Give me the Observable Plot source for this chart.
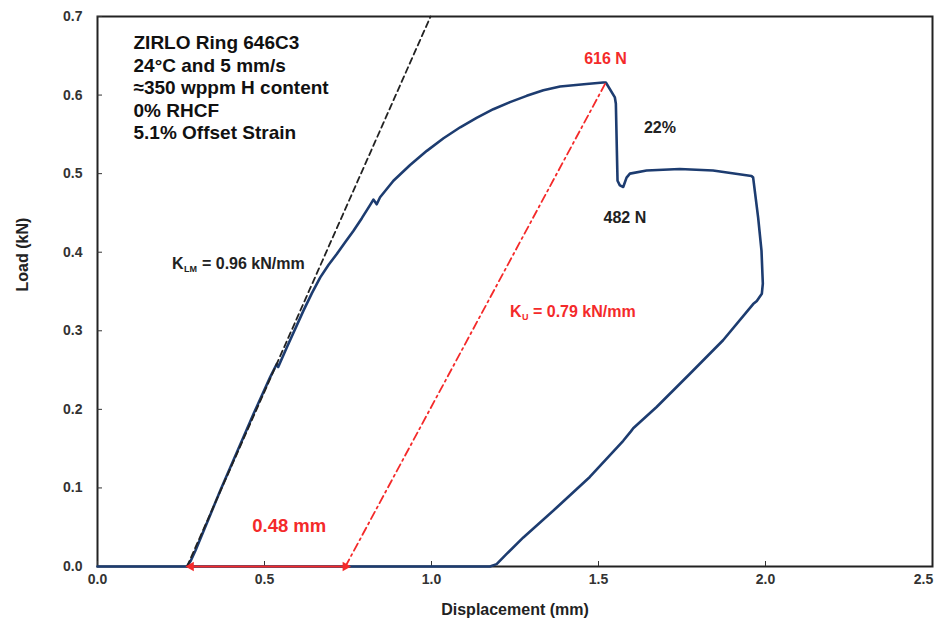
<!DOCTYPE html>
<html><head><meta charset="utf-8">
<script src="https://cdn.jsdelivr.net/npm/d3@7"></script>
<script src="https://cdn.jsdelivr.net/npm/@observablehq/plot@0.6"></script>
<style>
body{margin:0;background:#fff;}
svg{font-family:"Liberation Sans",Arial,sans-serif;}
svg text{font-weight:bold;}
</style>
</head><body><div id="chart"></div>
<script>
// Load–displacement curve (mm, kN)
const displacement = [0, 0.268, 0.28, 0.293, 0.33, 0.368, 0.418, 0.467, 0.517, 0.537, 0.541, 0.567, 0.617, 0.642, 0.667, 0.692, 0.717, 0.742, 0.766, 0.791, 0.816, 0.826, 0.836, 0.846, 0.886, 0.936, 0.986, 1.036, 1.086, 1.135, 1.185, 1.235, 1.285, 1.335, 1.385, 1.464, 1.514, 1.522, 1.549, 1.552, 1.555, 1.557, 1.564, 1.574, 1.584, 1.594, 1.644, 1.743, 1.843, 1.958, 1.963, 1.978, 1.988, 1.992, 1.989, 1.974, 1.963, 1.873, 1.773, 1.674, 1.604, 1.597, 1.574, 1.474, 1.375, 1.275, 1.225, 1.195, 1.175, 0];
const load = [0, 0, 0.008, 0.020, 0.058, 0.097, 0.146, 0.194, 0.241, 0.258, 0.254, 0.279, 0.326, 0.348, 0.368, 0.384, 0.398, 0.413, 0.427, 0.443, 0.460, 0.467, 0.461, 0.470, 0.491, 0.511, 0.529, 0.545, 0.559, 0.571, 0.582, 0.591, 0.599, 0.606, 0.611, 0.614, 0.616, 0.616, 0.597, 0.589, 0.529, 0.491, 0.485, 0.483, 0.495, 0.500, 0.504, 0.506, 0.504, 0.497, 0.495, 0.444, 0.402, 0.360, 0.347, 0.338, 0.334, 0.288, 0.245, 0.203, 0.176, 0.172, 0.160, 0.114, 0.075, 0.037, 0.016, 0.003, 0, 0];

const xTicks = [0, 0.5, 1.0, 1.5, 2.0];
const xLastTick = [2.5];
const yTicks = [0, 0.1, 0.2, 0.3, 0.4, 0.5, 0.6, 0.7];
const infoLines = ["ZIRLO Ring 646C3", "24°C and 5 mm/s", "≈350 wppm H content", "0% RHCF", "5.1% Offset Strain"];

const kLM = 0.96;          // kN/mm loading stiffness
const kU = 0.79;           // kN/mm unloading stiffness
const loadStart = 0.268;   // mm, onset of loading
const peakDisp = 1.522;    // mm
const peakLoad = 0.616;    // kN
const xTitle = "Displacement (mm)";
const yTitle = "Load (kN)";

const curve = displacement.map((d, i) => ({x: d, y: load[i]}));
const yMax = 0.7;
const loadingLine = [{x: loadStart, y: 0}, {x: loadStart + yMax / kLM, y: yMax}];
const unloadFoot = peakDisp - peakLoad / kU;
const unloadingLine = [{x: unloadFoot, y: 0}, {x: peakDisp, y: peakLoad}];
const arrowStart = loadStart + 0.012;

const red = "#f42a2a";
const navy = "#1d3c70";
const ink = "#222";

const chart = Plot.plot({
  width: 934, height: 631,
  marginLeft: 97, marginRight: 2, marginTop: 16, marginBottom: 65,
  x: {domain: [0, 2.5]},
  y: {domain: [0, 0.7]},
  style: {fontFamily: '"Liberation Sans", Arial, sans-serif', fontSize: "14px", color: "#333"},
  marks: [
    Plot.frame({stroke: ink, strokeWidth: 2}),
    Plot.axisX(xTicks, {tickSize: -5, tickPadding: 13, tickFormat: d3.format(".1f"), label: null, fontSize: 14, stroke: "#333"}),
    Plot.axisX(xLastTick, {tickSize: 0, tickPadding: 8, tickFormat: d3.format(".1f"), label: null, fontSize: 14, dx: -9}),
    Plot.axisY(yTicks, {tickSize: -5, tickPadding: 20, tickFormat: d3.format(".1f"), label: null, fontSize: 14, stroke: "#333"}),
    Plot.line(curve, {x: "x", y: "y", stroke: navy, strokeWidth: 2.6, strokeLinejoin: "round"}),
    Plot.line(loadingLine, {x: "x", y: "y", stroke: ink, strokeWidth: 1.8, strokeDasharray: "6,4"}),
    Plot.line(unloadingLine, {x: "x", y: "y", stroke: red, strokeWidth: 1.8, strokeDasharray: "8,4,2,4"}),
    Plot.link([{x1: arrowStart, x2: unloadFoot}], {x1: "x1", x2: "x2", y1: () => 0, y2: () => 0, stroke: red, strokeWidth: 2.2}),
    Plot.dot([arrowStart], {x: d => d, y: () => 0, symbol: "triangle", r: 3.6, rotate: -90, fill: red, stroke: null}),
    Plot.dot([unloadFoot], {x: d => d, y: () => 0, symbol: "triangle", r: 3.6, rotate: 90, fill: red, stroke: null}),
    Plot.text([infoLines.join("\n")], {text: d => d, frameAnchor: "top-left", dx: 36, dy: 17, lineAnchor: "top", lineHeight: 1.18, fontSize: 19, textAnchor: "start", fill: "#111"}),
    Plot.text(["616 N"], {text: d => d, x: () => 1.521, y: () => 0.646, fontSize: 16, fill: red}),
    Plot.text(["22%"], {text: d => d, x: () => 1.684, y: () => 0.558, fontSize: 16, fill: ink}),
    Plot.text(["482 N"], {text: d => d, x: () => 1.579, y: () => 0.444, fontSize: 16, fill: ink}),
    Plot.text(["0.48 mm"], {text: d => d, x: () => 0.574, y: () => 0.052, fontSize: 18.5, fill: red}),
    // K_LM label
    Plot.text(["K"], {text: d => d, x: () => 0.223, y: () => 0.385, textAnchor: "start", fontSize: 16, fill: ink}),
    Plot.text(["LM"], {text: d => d, x: () => 0.223, y: () => 0.385, dx: 12, dy: 5, textAnchor: "start", fontSize: 9, fill: ink}),
    Plot.text([`= ${kLM.toFixed(2)} kN/mm`], {text: d => d, x: () => 0.223, y: () => 0.385, dx: 30, textAnchor: "start", fontSize: 16, fill: ink}),
    // K_U label
    Plot.text(["K"], {text: d => d, x: () => 1.235, y: () => 0.3235, textAnchor: "start", fontSize: 16, fill: red}),
    Plot.text(["U"], {text: d => d, x: () => 1.235, y: () => 0.3235, dx: 12, dy: 5, textAnchor: "start", fontSize: 9, fill: red}),
    Plot.text([`= ${kU.toFixed(2)} kN/mm`], {text: d => d, x: () => 1.235, y: () => 0.3235, dx: 23, textAnchor: "start", fontSize: 16, fill: red}),
    // axis titles
    Plot.text([xTitle], {text: d => d, frameAnchor: "bottom", dy: 48, fontSize: 16, fill: ink}),
    Plot.text([yTitle], {text: d => d, frameAnchor: "left", dx: -75, rotate: -90, fontSize: 16, fill: ink})
  ]
});
document.getElementById("chart").append(chart);
</script>
</body></html>
